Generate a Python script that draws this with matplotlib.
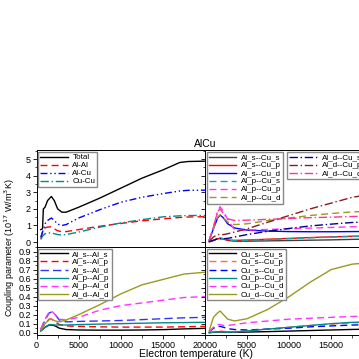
#!/usr/bin/env python3

import matplotlib
matplotlib.use("Agg")
import matplotlib.pyplot as plt
from matplotlib.ticker import MultipleLocator, FormatStrFormatter

plt.rcParams["font.family"] = ["Liberation Sans", "DejaVu Sans"]
plt.rcParams["font.size"] = 7

# electron temperature (K)
temp_tot = [500, 700, 800, 1000, 1300, 1750, 2100, 2500, 3000, 3500, 5000,
            7500, 10000, 12500, 15000, 17000, 18000, 20000]
total = [0.75, 0.8, 2.0, 2.1, 2.5, 2.75, 2.5, 2.0, 1.8, 1.8, 2.1,
         2.65, 3.25, 3.85, 4.35, 4.8, 4.86, 4.88]
al_al = [0.2, 0.6, 0.75, 0.85, 0.9, 0.92, 0.8, 0.68, 0.62, 0.63, 0.75,
         0.95, 1.12, 1.28, 1.4, 1.48, 1.51, 1.53]
al_cu = [0.3, 0.6, 0.75, 1.1, 1.3, 1.45, 1.3, 1.08, 1.0, 1.05, 1.45,
         1.95, 2.4, 2.7, 2.92, 3.08, 3.12, 3.13]
cu_cu = [0.15, 0.35, 0.4, 0.5, 0.55, 0.55, 0.5, 0.45, 0.42, 0.45, 0.6,
         0.9, 1.15, 1.35, 1.52, 1.58, 1.6, 1.6]

temp = [500, 1000, 1500, 1800, 2200, 2700, 3500, 5000, 7500, 10000,
        12500, 15000, 17500, 20000]

# Al-Cu orbital pairs
als_cus = [0.02, 0.1, 0.2, 0.22, 0.18, 0.1, 0.05, 0.05, 0.07, 0.09, 0.11, 0.13, 0.16, 0.18]
als_cup = [0.02, 0.1, 0.2, 0.22, 0.18, 0.12, 0.1, 0.12, 0.17, 0.22, 0.27, 0.31, 0.35, 0.37]
als_cud = [0.1, 0.8, 1.45, 1.63, 1.45, 1.1, 0.85, 0.72, 0.66, 0.63, 0.62, 0.62, 0.63, 0.64]
alp_cus = [0.02, 0.1, 0.22, 0.25, 0.2, 0.12, 0.08, 0.1, 0.15, 0.2, 0.25, 0.3, 0.33, 0.35]
alp_cup = [0.1, 0.9, 1.85, 2.13, 1.85, 1.35, 0.75, 0.72, 0.76, 0.8, 0.84, 0.88, 0.92, 0.94]
alp_cud = [0.1, 0.8, 1.5, 1.65, 1.45, 1.2, 1.05, 1.1, 1.3, 1.45, 1.6, 1.72, 1.82, 1.86]
ald_cus = [0.02, 0.1, 0.2, 0.2, 0.2, 0.22, 0.3, 0.45, 0.65, 0.82, 0.97, 1.08, 1.18, 1.22]
ald_cup = [0.05, 0.3, 0.45, 0.45, 0.45, 0.5, 0.6, 0.8, 1.2, 1.6, 2.0, 2.35, 2.7, 2.9]
ald_cud = [0.1, 0.9, 1.85, 2.0, 1.7, 1.4, 1.3, 1.32, 1.37, 1.42, 1.47, 1.5, 1.54, 1.56]

# Al-Al orbital pairs
als_als = [0.02, 0.06, 0.085, 0.085, 0.075, 0.05, 0.035, 0.03, 0.028, 0.028, 0.03, 0.034, 0.042, 0.048]
als_alp = [0.03, 0.1, 0.15, 0.15, 0.12, 0.09, 0.075, 0.07, 0.065, 0.062, 0.062, 0.062, 0.066, 0.07]
als_ald = [0.04, 0.14, 0.22, 0.23, 0.2, 0.14, 0.12, 0.125, 0.13, 0.135, 0.145, 0.155, 0.165, 0.17]
alp_alp = [0.02, 0.06, 0.09, 0.09, 0.085, 0.085, 0.085, 0.09, 0.095, 0.1, 0.105, 0.11, 0.112, 0.115]
alp_ald = [0.04, 0.15, 0.23, 0.24, 0.2, 0.15, 0.14, 0.17, 0.25, 0.3, 0.33, 0.36, 0.39, 0.4]
ald_ald = [0.03, 0.1, 0.145, 0.15, 0.13, 0.12, 0.14, 0.2, 0.31, 0.43, 0.53, 0.59, 0.65, 0.67]

# Cu-Cu orbital pairs
cus_cus = [0.0, 0.005, 0.008, 0.008, 0.006, 0.005, 0.005, 0.007, 0.012, 0.018, 0.024, 0.03, 0.036, 0.04]
cus_cup = [0.0, 0.01, 0.02, 0.02, 0.015, 0.01, 0.01, 0.02, 0.04, 0.06, 0.08, 0.095, 0.11, 0.115]
cus_cud = [0.01, 0.05, 0.07, 0.07, 0.06, 0.045, 0.035, 0.03, 0.04, 0.05, 0.065, 0.075, 0.085, 0.09]
cup_cup = [0.0, 0.005, 0.01, 0.01, 0.008, 0.006, 0.008, 0.02, 0.04, 0.06, 0.08, 0.1, 0.115, 0.12]
cup_cud = [0.01, 0.06, 0.09, 0.09, 0.08, 0.08, 0.09, 0.11, 0.13, 0.15, 0.16, 0.17, 0.18, 0.185]
cud_cud = [0.02, 0.17, 0.22, 0.24, 0.2, 0.15, 0.13, 0.155, 0.26, 0.4, 0.56, 0.7, 0.76, 0.78]

fig = plt.figure(figsize=(3.59, 3.59), dpi=100)
W = 0.469
ax_tl = fig.add_axes([0.102, 0.312, W, 0.270])
ax_tr = fig.add_axes([0.571, 0.312, W, 0.270])
ax_bl = fig.add_axes([0.102, 0.067, W, 0.245])
ax_br = fig.add_axes([0.571, 0.067, W, 0.245])

lw = 1.0
dd = (0, (5, 3))
dashdot = (0, (6, 2, 1, 2))

ax_tl.plot(temp_tot, total, color="black", lw=lw, label="Total")
ax_tl.plot(temp_tot, al_al, color="red", lw=lw, ls=dd, label="Al-Al")
ax_tl.plot(temp_tot, al_cu, color="blue", lw=lw, ls=(0, (5, 2, 1, 2, 1, 2)), label="Al-Cu")
ax_tl.plot(temp_tot, cu_cu, color="#008b8b", lw=lw, ls=dashdot, label="Cu-Cu")

l1 = []
l1 += ax_tr.plot(temp, als_cus, color="#404040", lw=lw, label="Al_s--Cu_s")
l1 += ax_tr.plot(temp, als_cup, color="red", lw=lw, label="Al_s--Cu_p")
l1 += ax_tr.plot(temp, als_cud, color="blue", lw=lw, label="Al_s--Cu_d")
l1 += ax_tr.plot(temp, alp_cus, color="#20a0a0", lw=lw, ls=dd, label="Al_p--Cu_s")
l1 += ax_tr.plot(temp, alp_cup, color="#ff33ff", lw=lw, ls=dd, label="Al_p--Cu_p")
l1 += ax_tr.plot(temp, alp_cud, color="#9a9a20", lw=lw, ls=dd, label="Al_p--Cu_d")
l2 = []
l2 += ax_tr.plot(temp, ald_cus, color="#000090", lw=lw, ls=dashdot, label="Al_d--Cu_s")
l2 += ax_tr.plot(temp, ald_cup, color="#8b1a1a", lw=lw, ls=dashdot, label="Al_d--Cu_p")
l2 += ax_tr.plot(temp, ald_cud, color="#ff3399", lw=lw, ls=dashdot, label="Al_d--Cu_d")

ax_bl.plot(temp, als_als, color="black", lw=lw, label="Al_s--Al_s")
ax_bl.plot(temp, als_alp, color="red", lw=lw, ls=dd, label="Al_s--Al_p")
ax_bl.plot(temp, als_ald, color="#3333ff", lw=lw, ls=(0, (6, 3)), label="Al_s--Al_d")
ax_bl.plot(temp, alp_alp, color="#008b8b", lw=lw, label="Al_p--Al_p")
ax_bl.plot(temp, alp_ald, color="#ff33ff", lw=lw, ls=dd, label="Al_p--Al_d")
ax_bl.plot(temp, ald_ald, color="#9a9a20", lw=lw, label="Al_d--Al_d")

ax_br.plot(temp, cus_cus, color="black", lw=lw, label="Cu_s--Cu_s")
ax_br.plot(temp, cus_cup, color="#ff6666", lw=lw, ls=dd, label="Cu_s--Cu_p")
ax_br.plot(temp, cus_cud, color="blue", lw=lw, ls=dd, label="Cu_s--Cu_d")
ax_br.plot(temp, cup_cup, color="#008b8b", lw=lw, label="Cu_p--Cu_p")
ax_br.plot(temp, cup_cud, color="#ff33ff", lw=lw, ls=dd, label="Cu_p--Cu_d")
ax_br.plot(temp, cud_cud, color="#9a9a20", lw=lw, label="Cu_d--Cu_d")

leg_kw = dict(fontsize=5.8, handlelength=3.4, labelspacing=0.05, borderpad=0.25,
              borderaxespad=0.2, handletextpad=0.6, fancybox=False,
              edgecolor="#888888", framealpha=1)

for ax in (ax_tl, ax_tr):
    ax.set_ylim(-0.3, 5.55)
    ax.yaxis.set_major_locator(MultipleLocator(1))
    ax.yaxis.set_minor_locator(MultipleLocator(0.5))
for ax in (ax_bl, ax_br):
    ax.set_ylim(-0.025, 0.95)
    ax.yaxis.set_major_locator(MultipleLocator(0.1))
    ax.yaxis.set_minor_locator(MultipleLocator(0.05))
for ax in (ax_tl, ax_tr, ax_bl, ax_br):
    ax.set_xlim(0, 20000)
    ax.xaxis.set_major_locator(MultipleLocator(5000))
    ax.xaxis.set_minor_locator(MultipleLocator(2500))
    ax.tick_params(which="major", direction="out", length=3, width=0.6, labelsize=6.5, pad=1)
    ax.tick_params(which="minor", direction="out", length=1.8, width=0.5)
    for s in ax.spines.values():
        s.set_linewidth(0.7)

ax_tl.tick_params(labelbottom=False)
ax_tr.tick_params(labelbottom=False, labelleft=False)
ax_br.tick_params(labelleft=False)
ax_br.set_xticks([5000, 10000, 15000, 20000])
ax_bl.yaxis.set_major_formatter(FormatStrFormatter("%.1f"))

ax_tl.legend(loc="upper left", **leg_kw)
leg1 = ax_tr.legend(handles=l1, loc="upper left", **leg_kw)
ax_tr.add_artist(leg1)
ax_tr.legend(handles=l2, loc="upper left", bbox_to_anchor=(0.48, 1.0), **leg_kw)
ax_bl.legend(loc="upper left", **leg_kw)
ax_br.legend(loc="upper left", **leg_kw)

fig.text(0.571, 0.586, "AlCu", ha="center", va="bottom", fontsize=7.5)
fig.text(0.545, 0.0, "Electron temperature (K)", ha="center", va="bottom", fontsize=7.5)
fig.text(0.008, 0.31, "Coupling parameter (10$^{17}$ W/m$^{3}$K)", rotation=90,
         ha="left", va="center", fontsize=6.5)

fig.savefig("out.png", dpi=100)
